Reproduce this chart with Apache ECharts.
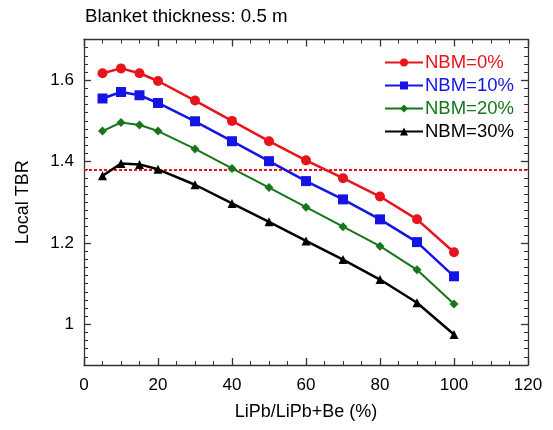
<!DOCTYPE html>
<html>
<head>
<meta charset="utf-8">
<script src="https://cdn.jsdelivr.net/npm/echarts@6/dist/echarts.min.js"></script>
<style>
html,body{margin:0;padding:0;background:#fff;}
#chart{width:553px;height:430px;}
</style>
</head>
<body>
<div id="chart"></div>
<script>
// ---- data ----
const xValues = [5, 10, 15, 20, 30, 40, 50, 60, 70, 80, 90, 100];
const nbm0  = [1.617, 1.629, 1.617, 1.598, 1.550, 1.500, 1.450, 1.403, 1.359, 1.314, 1.258, 1.177];
const nbm10 = [1.555, 1.571, 1.563, 1.544, 1.499, 1.450, 1.401, 1.352, 1.307, 1.258, 1.202, 1.118];
const nbm20 = [1.475, 1.496, 1.490, 1.475, 1.431, 1.383, 1.336, 1.288, 1.240, 1.192, 1.134, 1.050];
const nbm30 = [1.365, 1.395, 1.393, 1.381, 1.343, 1.297, 1.252, 1.205, 1.159, 1.110, 1.053, 0.975];
const seriesNames = ['NBM=0%', 'NBM=10%', 'NBM=20%', 'NBM=30%'];
const targetTBR = 1.383;
const yMajorTicks = [1, 1.2, 1.4, 1.6];
const titleText = 'Blanket thickness: 0.5 m';
const xName = 'LiPb/LiPb+Be (%)';
const yName = 'Local TBR';

const FONT = "'Liberation Sans', Arial, Helvetica, sans-serif";
const AX = '#333';
const pair = (ys) => xValues.map((x, i) => [x, ys[i]]);

function yAxisBase(pos, showLabel, major) {
  return {
    type: 'value', position: pos, min: 0.9, max: 1.7, interval: 0.1,
    axisLine: { show: !major, lineStyle: { color: AX, width: 1.3 } },
    axisTick: major
      ? { show: true, inside: true, length: 7, customValues: yMajorTicks, lineStyle: { color: AX, width: 1.3 } }
      : { show: true, inside: true, length: 4, lineStyle: { color: AX, width: 1 } },
    minorTick: { show: !major, splitNumber: 5, length: 4, lineStyle: { color: AX, width: 1 } },
    splitLine: { show: false },
    minorSplitLine: { show: false },
    axisLabel: showLabel ? {
      show: true, margin: 10, fontSize: 17, color: '#000', fontFamily: FONT,
      formatter: v => (Math.round(v * 10) % 2 === 0 ? String(Math.round(v * 10) / 10) : '')
    } : { show: false }
  };
}

function xAxisBase(pos, showLabel) {
  return {
    type: 'value', position: pos, min: 0, max: 120, interval: 20,
    axisLine: { show: true, onZero: false, lineStyle: { color: AX, width: 1.3 } },
    axisTick: { show: true, inside: true, length: 7, lineStyle: { color: AX, width: 1.3 } },
    minorTick: { show: true, splitNumber: 4, length: 4, lineStyle: { color: AX, width: 1 } },
    splitLine: { show: false },
    axisLabel: showLabel ? { show: true, margin: 12, fontSize: 17, color: '#000', fontFamily: FONT } : { show: false }
  };
}

const xBottom = Object.assign(xAxisBase('bottom', true), {
  name: xName, nameLocation: 'middle', nameGap: 38,
  nameTextStyle: { fontSize: 18, color: '#000', fontFamily: FONT }
});
const yLeft = Object.assign(yAxisBase('left', true, false), {
  name: yName, nameLocation: 'middle', nameGap: 52, nameRotate: 90,
  nameTextStyle: { fontSize: 18, color: '#000', fontFamily: FONT }
});

const colors = ['#e8141c', '#1414e6', '#17761a', '#000000'];
const symbols = ['circle', 'rect', 'diamond', 'triangle'];
const symSizes = [10, 10, 9, 9];
const widths = [2.5, 2.5, 2, 2.5];
const allData = [nbm0, nbm10, nbm20, nbm30];

const series = seriesNames.map((name, i) => ({
  name, type: 'line', xAxisIndex: 0, yAxisIndex: 0,
  data: pair(allData[i]),
  symbol: symbols[i], symbolSize: symSizes[i],
  lineStyle: { color: colors[i], width: widths[i] },
  itemStyle: { color: colors[i] },
  z: 10 - i, animation: false
}));
series.push({
  name: 'target', type: 'line', xAxisIndex: 0, yAxisIndex: 0, data: [],
  markLine: {
    silent: true, symbol: 'none', animation: false,
    label: { show: false },
    lineStyle: { color: '#e8141c', width: 2, type: [3, 2] },
    data: [{ yAxis: targetTBR }]
  }
});

const chart = echarts.init(document.getElementById('chart'), null, { renderer: 'canvas' });
chart.setOption({
  animation: false,
  backgroundColor: '#fff',
  textStyle: { fontFamily: FONT },
  title: {
    text: titleText, left: 85, top: 7, padding: 0,
    textStyle: { fontSize: 18.7, fontWeight: 'normal', color: '#000', fontFamily: FONT }
  },
  grid: { left: 84, right: 25, top: 39.5, bottom: 65, containLabel: false },
  legend: {
    orient: 'vertical', left: 384, top: 53,
    itemWidth: 38, itemHeight: 10, itemGap: 4, padding: 0,
    selectedMode: false,
    textStyle: { fontSize: 18.5, lineHeight: 18, fontFamily: FONT, padding: [0, 0, 0, -3] },
    data: seriesNames.map((n, i) => ({ name: n, textStyle: { color: colors[i] } }))
  },
  xAxis: [xBottom, xAxisBase('top', false)],
  yAxis: [yLeft, yAxisBase('left', false, true), yAxisBase('right', false, false), yAxisBase('right', false, true)],
  series
});
</script>
</body>
</html>
